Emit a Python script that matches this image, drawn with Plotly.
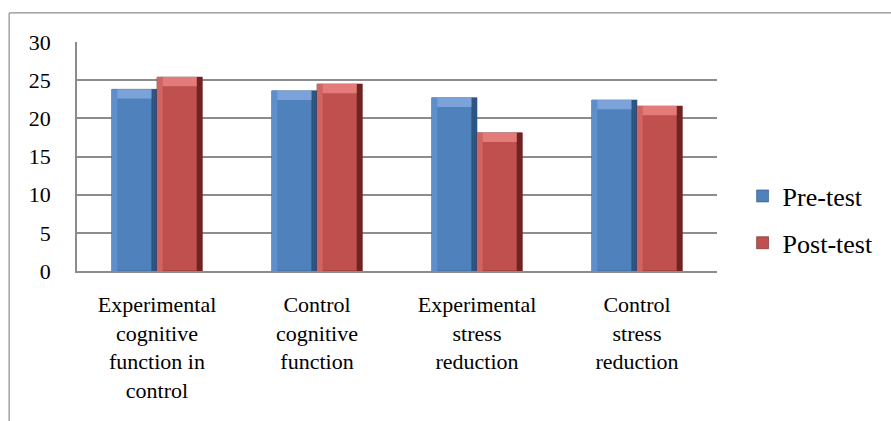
import plotly.graph_objects as go

categories = [
    "Experimental<br>cognitive<br>function in<br>control",
    "Control<br>cognitive<br>function",
    "Experimental<br>stress<br>reduction",
    "Control<br>stress<br>reduction",
]
pre_test = [23.8, 23.6, 22.7, 22.4]
post_test = [25.4, 24.5, 18.1, 21.6]
y_ticks = [0, 5, 10, 15, 20, 25, 30]

FONT = "Liberation Serif"
BAR_W = 0.283          # width of one bar in category units
TOP_BAND = 1.2         # height of the bevelled top face, in data units
EDGE_W = 0.035         # width of the shaded side faces, in category units

series = [
    ("Pre-test", pre_test, -BAR_W, "#4F81BD", "#7BA3DA", "#2E5481", "#5E8FCC"),
    ("Post-test", post_test, 0.0, "#C0504D", "#E27B79", "#6E2422", "#CF6664"),
]

fig = go.Figure()
xs = list(range(len(categories)))

for name, vals, off, face, light, dark, side_light in series:
    # main bar face
    fig.add_trace(go.Bar(
        x=xs, y=vals, name=name, width=BAR_W, offset=off,
        marker=dict(color=face, line=dict(color=dark, width=0.6)),
        legendgroup=name, showlegend=True,
    ))
    # left bevel face
    fig.add_trace(go.Bar(
        x=xs, y=vals, width=EDGE_W, offset=off,
        marker=dict(color=side_light, line=dict(width=0)),
        showlegend=False, hoverinfo="skip",
    ))
    # right bevel face (shadowed)
    fig.add_trace(go.Bar(
        x=xs, y=vals, width=EDGE_W, offset=off + BAR_W - EDGE_W,
        marker=dict(color=dark, line=dict(width=0)),
        showlegend=False, hoverinfo="skip",
    ))
    # top bevel face (highlight)
    fig.add_trace(go.Bar(
        x=xs, y=[TOP_BAND] * len(vals), base=[v - TOP_BAND for v in vals],
        width=BAR_W - 2 * EDGE_W, offset=off + EDGE_W,
        marker=dict(color=light, line=dict(width=0)),
        showlegend=False, hoverinfo="skip",
    ))

fig.update_layout(
    width=891, height=421,
    margin=dict(l=77, r=171, t=42, b=150),
    paper_bgcolor="white", plot_bgcolor="white",
    barmode="overlay",
    legend=dict(
        x=1.04, y=0.43, xanchor="left", yanchor="top",
        font=dict(family=FONT, size=26, color="black"),
        tracegroupgap=10, traceorder="grouped",
    ),
    xaxis=dict(
        tickmode="array", tickvals=xs, ticktext=categories,
        range=[-0.5, len(categories) - 0.5],
        showgrid=False, zeroline=False,
        showline=True, linecolor="#8C8C8C", linewidth=1.5,
        ticks="outside", ticklen=13, tickcolor="rgba(0,0,0,0)",
        tickfont=dict(family=FONT, size=22, color="black"),
    ),
    yaxis=dict(
        range=[0, 30], tickmode="array", tickvals=y_ticks,
        showgrid=True, gridcolor="#8C8C8C", gridwidth=1.5,
        zeroline=False,
        showline=True, linecolor="#8C8C8C", linewidth=1.5,
        ticks="outside", ticklen=20, tickcolor="rgba(0,0,0,0)",
        tickfont=dict(family=FONT, size=22, color="black"),
    ),
    shapes=[
        dict(type="line", xref="paper", yref="paper",
             x0=-0.106, x1=1.3, y0=1.127, y1=1.127,
             line=dict(color="#8C8C8C", width=1.2)),
        dict(type="line", xref="paper", yref="paper",
             x0=-0.106, x1=-0.106, y0=1.127, y1=-0.7,
             line=dict(color="#8C8C8C", width=1.2)),
    ],
)

fig.write_html("out.html")
